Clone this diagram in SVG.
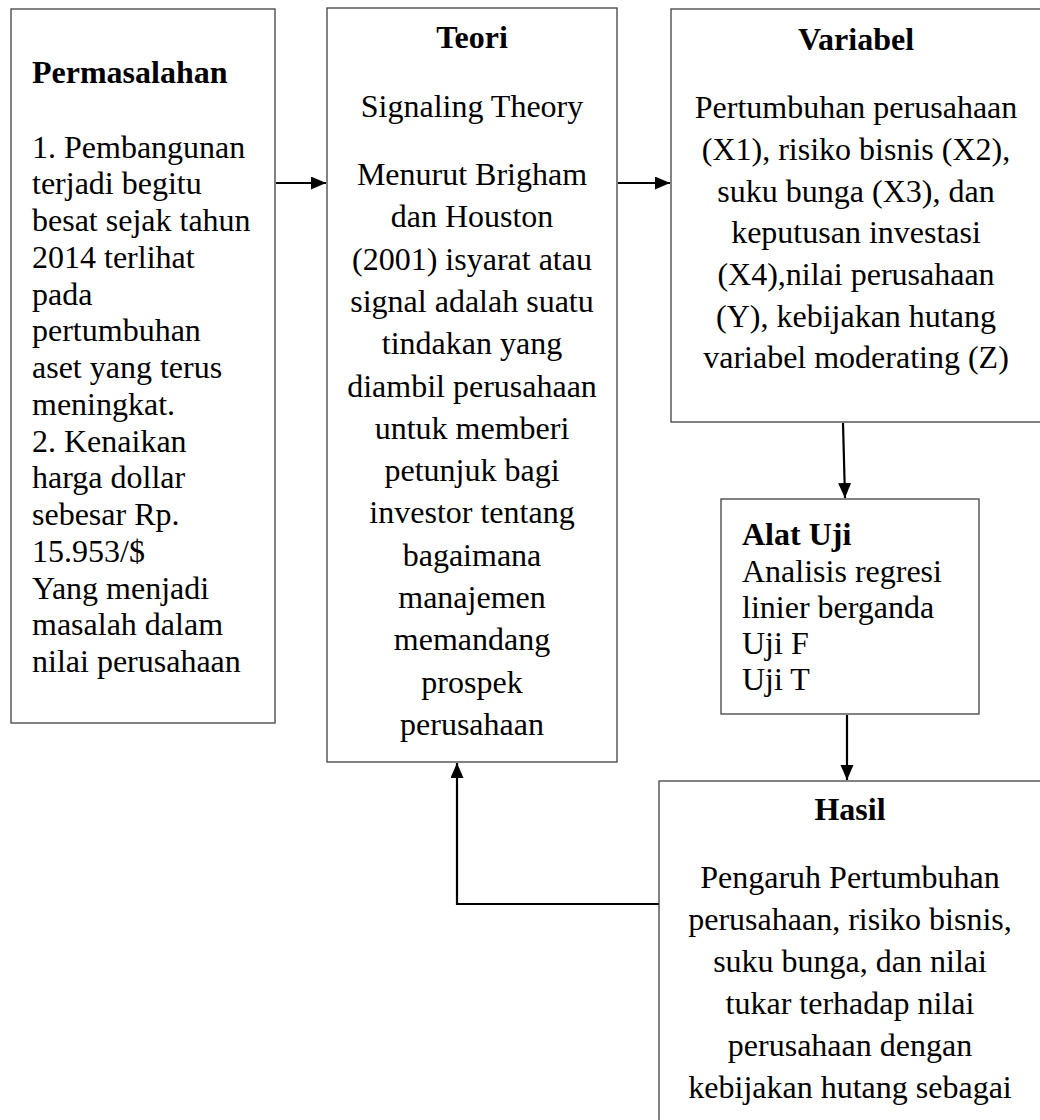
<svg xmlns="http://www.w3.org/2000/svg" width="1040" height="1120" viewBox="0 0 1040 1120">
<style>
.box{fill:#fff;stroke:#404040;stroke-width:1.3}
.t{font-family:"Liberation Serif","Times New Roman",serif;font-size:32px;fill:#000}
.b{font-weight:bold}
.c{text-anchor:middle}
.con{fill:none;stroke:#000;stroke-width:2.2}
</style>
<defs>
<marker id="ah" markerUnits="userSpaceOnUse" markerWidth="16" markerHeight="14" refX="15" refY="6.5" orient="auto">
<path d="M0,0 L15,6.5 L0,13 Z" fill="#000"/>
</marker>
</defs>
<rect width="1040" height="1120" fill="#fff"/>
<g id="connectors">
<line class="con" x1="276" y1="183" x2="326" y2="183" marker-end="url(#ah)"/>
<line class="con" x1="618" y1="183" x2="670" y2="183" marker-end="url(#ah)"/>
<line class="con" x1="843" y1="423" x2="845" y2="498" marker-end="url(#ah)"/>
<line class="con" x1="847" y1="715" x2="847" y2="780" marker-end="url(#ah)"/>
<polyline class="con" points="659,904 457,904 457,763" marker-end="url(#ah)"/>
</g>
<g id="permasalahan">
<rect class="box" x="11" y="9" width="264" height="714"/>
<text class="t b" x="32" y="83">Permasalahan</text>
<text class="t" x="32" y="157.5">1. Pembangunan</text>
<text class="t" x="32" y="194.3">terjadi begitu</text>
<text class="t" x="32" y="231">besat sejak tahun</text>
<text class="t" x="32" y="267.8">2014 terlihat</text>
<text class="t" x="32" y="304.5">pada</text>
<text class="t" x="32" y="341.3">pertumbuhan</text>
<text class="t" x="32" y="378">aset yang terus</text>
<text class="t" x="32" y="414.8">meningkat.</text>
<text class="t" x="32" y="451.5">2. Kenaikan</text>
<text class="t" x="32" y="488.3">harga dollar</text>
<text class="t" x="32" y="525">sebesar Rp.</text>
<text class="t" x="32" y="561.8">15.953/$</text>
<text class="t" x="32" y="598.5">Yang menjadi</text>
<text class="t" x="32" y="635.3">masalah dalam</text>
<text class="t" x="32" y="672">nilai perusahaan</text>
</g>
<g id="teori">
<rect class="box" x="327" y="8" width="290" height="754"/>
<text class="t b c" x="472" y="48">Teori</text>
<text class="t c" x="472" y="117">Signaling Theory</text>
<text class="t c" x="472" y="185">Menurut Brigham</text>
<text class="t c" x="472" y="227.3">dan Houston</text>
<text class="t c" x="472" y="269.6">(2001) isyarat atau</text>
<text class="t c" x="472" y="311.9">signal adalah suatu</text>
<text class="t c" x="472" y="354.2">tindakan yang</text>
<text class="t c" x="472" y="396.5">diambil perusahaan</text>
<text class="t c" x="472" y="438.8">untuk memberi</text>
<text class="t c" x="472" y="481.1">petunjuk bagi</text>
<text class="t c" x="472" y="523.4">investor tentang</text>
<text class="t c" x="472" y="565.7">bagaimana</text>
<text class="t c" x="472" y="608">manajemen</text>
<text class="t c" x="472" y="650.3">memandang</text>
<text class="t c" x="472" y="692.6">prospek</text>
<text class="t c" x="472" y="734.9">perusahaan</text>
</g>
<g id="variabel">
<rect class="box" x="671" y="9" width="380" height="413"/>
<text class="t b c" x="856" y="50">Variabel</text>
<text class="t c" x="856" y="118">Pertumbuhan perusahaan</text>
<text class="t c" x="856" y="160">(X1), risiko bisnis (X2),</text>
<text class="t c" x="856" y="202">suku bunga (X3), dan</text>
<text class="t c" x="856" y="243">keputusan investasi</text>
<text class="t c" x="856" y="285">(X4),nilai perusahaan</text>
<text class="t c" x="856" y="327">(Y), kebijakan hutang</text>
<text class="t c" x="856" y="368">variabel moderating (Z)</text>
</g>
<g id="alat-uji">
<rect class="box" x="721" y="499" width="258" height="215"/>
<text class="t b" x="742" y="545">Alat Uji</text>
<text class="t" x="742" y="582">Analisis regresi</text>
<text class="t" x="742" y="618">linier berganda</text>
<text class="t" x="742" y="654">Uji F</text>
<text class="t" x="742" y="690">Uji T</text>
</g>
<g id="hasil">
<rect class="box" x="659" y="781" width="400" height="360"/>
<text class="t b c" x="850" y="820">Hasil</text>
<text class="t c" x="850" y="888">Pengaruh Pertumbuhan</text>
<text class="t c" x="850" y="930">perusahaan, risiko bisnis,</text>
<text class="t c" x="850" y="972">suku bunga, dan nilai</text>
<text class="t c" x="850" y="1014">tukar terhadap nilai</text>
<text class="t c" x="850" y="1056">perusahaan dengan</text>
<text class="t c" x="850" y="1098">kebijakan hutang sebagai</text>
</g>
</svg>
